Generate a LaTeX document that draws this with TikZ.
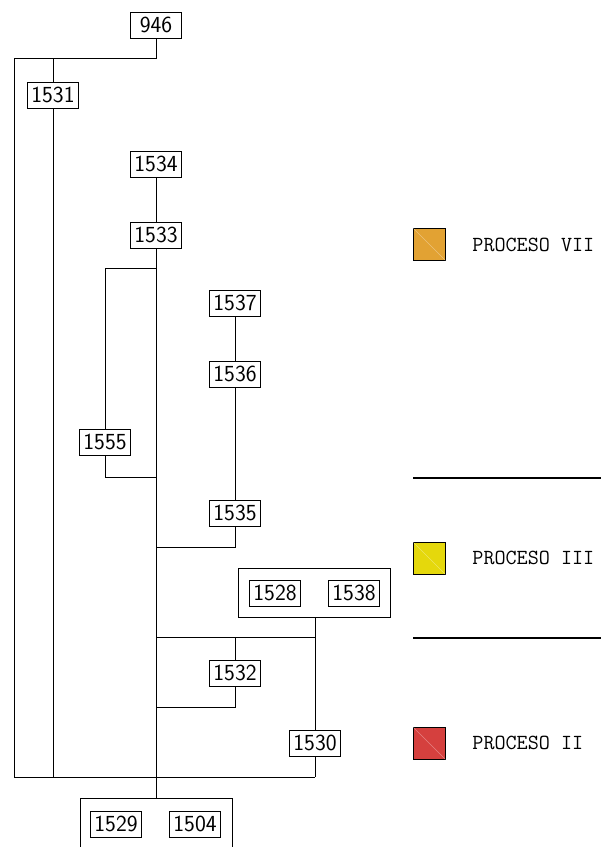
\documentclass[tikz,border=0pt]{standalone}
\usepackage{fontspec}
\begin{document}
\begin{tikzpicture}[x=1pt,y=-1pt,
  line width=0.9pt,
  numbox/.style={draw, minimum width=51pt, minimum height=26pt, inner sep=0pt,
    font=\sffamily\fontsize{23}{23}\selectfont},
  swatch/.style={draw, line width=0.9pt, minimum width=32pt, minimum height=32pt, inner sep=0pt},
  legtext/.style={anchor=west, inner sep=0pt, font=\ttfamily\fontsize{21.5}{21.5}\selectfont},
  sep/.style={line width=1.2pt}]
\useasboundingbox (0,0) rectangle (601,847);
\definecolor{orangeP}{HTML}{E2A233}
\definecolor{yellowP}{HTML}{E5D80C}
\definecolor{redP}{HTML}{D5403E}

% nodes
\node[numbox] (n946) at (156,25) {946};
\node[numbox] (n1531) at (53,95) {1531};
\node[numbox] (n1534) at (156,164) {1534};
\node[numbox] (n1533) at (156,235) {1533};
\node[numbox] (n1555) at (105,442) {1555};
\node[numbox] (n1537) at (235,303) {1537};
\node[numbox] (n1536) at (235,374) {1536};
\node[numbox] (n1535) at (235,513) {1535};
\node[numbox] (n1528) at (275,593) {1528};
\node[numbox] (n1538) at (354,593) {1538};
\node[numbox] (n1532) at (235,673) {1532};
\node[numbox] (n1530) at (315,743) {1530};
\node[numbox] (n1529) at (116,824) {1529};
\node[numbox] (n1504) at (195,824) {1504};

% group boxes
\draw (238,568) rectangle (390,617);
\coordinate (gtop) at (315,617);
\draw (80,798) rectangle (232,870);
\coordinate (btop) at (156,798);

% coordinates
\coordinate (a1) at (14,58);
\coordinate (a2) at (53,58);
\coordinate (a3) at (14,777);
\coordinate (a4) at (53,777);
\coordinate (a6) at (315,777);
\coordinate (b1) at (156,268);
\coordinate (b2) at (105,268);
\coordinate (b3) at (105,477);
\coordinate (b4) at (156,477);
\coordinate (c1) at (156,547);
\coordinate (c2) at (235,547);
\coordinate (d1) at (156,637);
\coordinate (d2) at (235,637);
\coordinate (d3) at (315,637);
\coordinate (e1) at (235,707);
\coordinate (e2) at (156,707);

% connectors
\draw (n946.south) |- (a1) -- (a3) -- (a6);
\draw (a2) -- (n1531.north);
\draw (n1531.south) -- (a4);
\draw (n1534.south) -- (n1533.north);
\draw (n1533.south) -- (btop);
\draw (b1) -- (b2) -- (n1555.north);
\draw (n1555.south) -- (b3) -- (b4);
\draw (n1537.south) -- (n1536.north);
\draw (n1536.south) -- (n1535.north);
\draw (n1535.south) -- (c2) -- (c1);
\draw (gtop) -- (d3) -- (d1);
\draw (d2) -- (n1532.north);
\draw (n1532.south) -- (e1) -- (e2);
\draw (d3) -- (n1530.north);
\draw (n1530.south) -- (a6);

% legend
\node[swatch, fill=orangeP] (s7) at (429,244) {};
\draw[white, opacity=0.35, line width=0.6pt] (s7.north west) -- (s7.south east);
\node[legtext] (t7) at (472,245) {PROCESO VII};
\node[swatch, fill=yellowP] (s3) at (429,558) {};
\draw[white, opacity=0.35, line width=0.6pt] (s3.north west) -- (s3.south east);
\node[legtext] (t3) at (472,558) {PROCESO III};
\node[swatch, fill=redP] (s2) at (429,743) {};
\draw[white, opacity=0.35, line width=0.6pt] (s2.north west) -- (s2.south east);
\node[legtext] (t2) at (472,743) {PROCESO II};
\coordinate (l1a) at (413,478);
\coordinate (l1b) at (601,478);
\coordinate (l2a) at (413,638);
\coordinate (l2b) at (601,638);
\draw[sep] (l1a) -- (l1b);
\draw[sep] (l2a) -- (l2b);
\end{tikzpicture}
\end{document}
